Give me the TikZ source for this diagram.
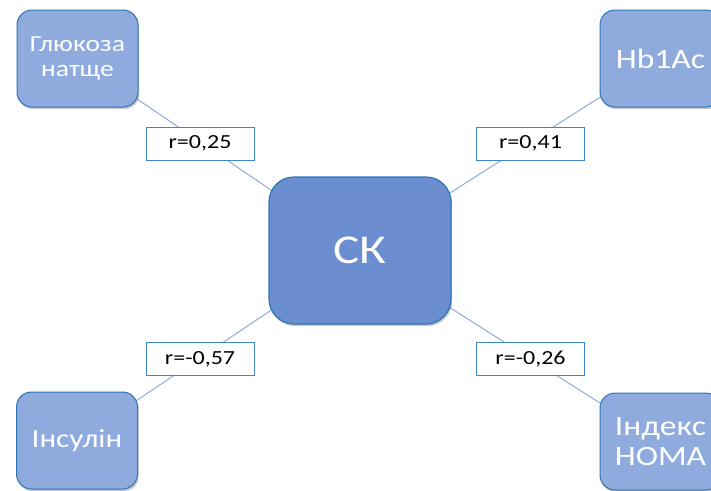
\documentclass[tikz,border=0pt]{standalone}
\usepackage{fontspec}
\setmainfont{Carlito}[FakeStretch=1.2]
\usetikzlibrary{shadows,backgrounds}
\definecolor{boxfill}{RGB}{143,170,220}
\definecolor{corefill}{RGB}{106,142,207}
\definecolor{edgeblue}{RGB}{46,117,182}
\definecolor{linkblue}{RGB}{143,170,220}
\definecolor{tagedge}{RGB}{60,135,205}

\tikzset{
  softshadow/.style={drop shadow={shadow xshift=1.2pt, shadow yshift=-2.2pt, opacity=0.22, fill=black}},
  factor/.style={draw=edgeblue, line width=1pt, fill=boxfill, rounded corners=15pt,
    minimum width=121pt, minimum height=97pt, text=white, align=center, inner sep=0pt, softshadow},
  core/.style={draw=edgeblue, line width=1.2pt, fill=corefill, rounded corners=25pt,
    minimum width=182pt, minimum height=147pt, text=white, inner sep=0pt, softshadow,
    font=\fontsize{41}{44}\selectfont},
  coef/.style={draw=tagedge, fill=white, line width=0.9pt, minimum width=108pt,
    minimum height=33pt, inner sep=0pt, font=\fontsize{20}{22}\selectfont},
  link/.style={draw=linkblue, line width=1pt}
}

\begin{document}
\begin{tikzpicture}[x=1pt, y=-1pt]
  \useasboundingbox (0,0) rectangle (711,490);
  \clip (0,0) rectangle (711,490);

  % central node and the four factors around it
  \node[core] (sk) at (360,250.5) {СК};
  \node[factor, font=\fontsize{23}{24.5}\selectfont] (gluc) at (77.5,58.5) {Глюкоза\\натще};
  \node[factor, font=\fontsize{28}{30}\selectfont] (hb) at (660.5,58.5) {Hb1Ac};
  \node[factor, font=\fontsize{26}{30}\selectfont] (ins) at (77,440.5) {Інсулін};
  \node[factor, font=\fontsize{28}{30}\selectfont] (homa) at (660.5,441.5) {Індекс\\НОМА};

  % connectors behind the boxes
  \begin{scope}[on background layer]
    \draw[link] (gluc.center) -- (sk.center);
    \draw[link] (hb.center) -- (sk.center);
    \draw[link] (ins.center) -- (sk.center);
    \draw[link] (homa.center) -- (sk.center);
  \end{scope}

  % correlation coefficients on the connectors
  \node[coef] (r1) at (200,143.5) {r=0,25};
  \node[coef] (r2) at (530.5,143.5) {r=0,41};
  \node[coef] (r3) at (200,359) {r=-0,57};
  \node[coef] (r4) at (530.5,359) {r=-0,26};
\end{tikzpicture}
\end{document}
